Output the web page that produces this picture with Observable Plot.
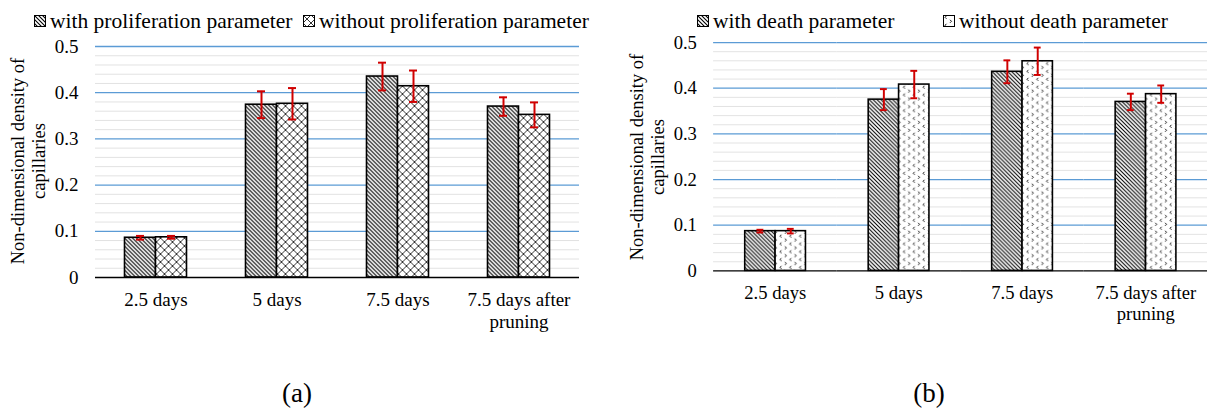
<!DOCTYPE html>
<html>
<head>
<meta charset="utf-8">
<script src="https://cdn.jsdelivr.net/npm/d3@7"></script>
<script src="https://cdn.jsdelivr.net/npm/@observablehq/plot@0.6"></script>
<style>
  html, body { margin: 0; padding: 0; background: #fff; }
  body { width: 1208px; height: 408px; overflow: hidden; position: relative;
         font-family: "Liberation Serif", "Times New Roman", serif; color: #000; }
  .panel { position: absolute; top: 30px; }
  .panel svg { overflow: visible; }
  .legend-item { position: absolute; top: 9px; display: flex; align-items: center;
                 font-size: 21.5px; line-height: 24px; white-space: nowrap; }
  .legend-item svg { margin-right: 4px; flex: none; }
  .ytitle { position: absolute; width: 320px; text-align: center; font-size: 18.5px;
            line-height: 21px; white-space: nowrap;
            transform: translate(-50%, -50%) rotate(-90deg); }
  .caption { position: absolute; top: 380px; font-size: 27px; line-height: 27px;
             transform: translateX(-50%); }
</style>
</head>
<body>
<!-- fill patterns shared by the bars and the legend swatches -->
<svg width="0" height="0" style="position:absolute">
  <defs>
    <pattern id="hatch" width="4" height="4" patternUnits="userSpaceOnUse">
      <rect width="4" height="4" fill="#fff"/>
      <path d="M-1,-1 L5,5 M-1,3 L1,5 M3,-1 L5,1" stroke="#000" stroke-width="1.1"/>
    </pattern>
    <pattern id="cross" width="8" height="8" patternUnits="userSpaceOnUse">
      <rect width="8" height="8" fill="#fff"/>
      <path d="M0,0 L8,8 M8,0 L0,8" stroke="#333" stroke-width="1"/>
    </pattern>
    <pattern id="dots" width="10" height="8" patternUnits="userSpaceOnUse">
      <rect width="10" height="8" fill="#fff"/>
      <path d="M3.5,0.8 L2,2.3 L3.5,3.8 M7,4.8 L8.5,6.3 L7,7.8" fill="none" stroke="#111" stroke-width="1"/>
    </pattern>
  </defs>
</svg>

<div id="panelA" class="panel" style="left:0px"></div>
<div id="panelB" class="panel" style="left:620px"></div>

<script>
// Categories and tick values shared by both panels
const categories = ["2.5 days", "5 days", "7.5 days", "7.5 days after pruning"];
const yTicks = [0, 0.1, 0.2, 0.3, 0.4, 0.5];

// Panel (a): proliferation parameter
const seriesA = ["with proliferation parameter", "without proliferation parameter"];
const withProlif = [0.086, 0.374, 0.435, 0.370];
const withProlifErr = [0.004, 0.029, 0.030, 0.020];
const withoutProlif = [0.087, 0.376, 0.414, 0.352];
const withoutProlifErr = [0.003, 0.034, 0.034, 0.027];

// Panel (b): death parameter
const seriesB = ["with death parameter", "without death parameter"];
const withDeath = [0.087, 0.375, 0.436, 0.370];
const withDeathErr = [0.003, 0.023, 0.025, 0.018];
const withoutDeath = [0.087, 0.408, 0.459, 0.387];
const withoutDeathErr = [0.005, 0.030, 0.030, 0.019];

const minorTicks = d3.ticks(0, 0.5, 25).filter(d => Math.round(d * 50) % 5 !== 0);
const fmtY = d => d === 0 ? "0" : d.toFixed(1);
const fmtFx = d => d.replace("after ", "after\n");

function rowsFor(series, a, aErr, b, bErr) {
  return categories.flatMap((c, i) => [
    {category: c, series: series[0], value: a[i], err: aErr[i]},
    {category: c, series: series[1], value: b[i], err: bErr[i]}
  ]);
}

function chart(rows, series, fills, opts) {
  return Plot.plot({
    width: 600,
    height: 310,
    marginLeft: opts.marginLeft,
    marginRight: opts.marginRight,
    marginTop: opts.marginTop,
    marginBottom: opts.marginBottom,
    style: {fontFamily: "Liberation Serif, Times New Roman, serif", fontSize: "19px", background: "transparent"},
    fx: {domain: categories, padding: 0},
    x: {domain: series, paddingInner: 0, paddingOuter: opts.paddingOuter, axis: null},
    y: {domain: [0, 0.5]},
    color: {type: "ordinal", domain: series, range: fills},
    marks: [
      Plot.ruleY(minorTicks, {stroke: "#e2e2e2", strokeWidth: 1}),
      Plot.ruleY(yTicks.filter(d => d > 0), {stroke: "#5b9bd5", strokeWidth: 1.3}),
      Plot.barY(rows, {fx: "category", x: "series", y: "value", fill: "series",
                       stroke: "#000", strokeWidth: 1.6}),
      Plot.ruleY([0], {stroke: "#000", strokeWidth: 1.5}),
      Plot.ruleX(rows, {fx: "category", x: "series",
                        y1: d => d.value - d.err, y2: d => d.value + d.err,
                        stroke: "#d00000", strokeWidth: 2}),
      Plot.tickY(rows, {fx: "category", x: "series", y: d => d.value + d.err,
                        stroke: "#d00000", strokeWidth: 2,
                        insetLeft: opts.capInset, insetRight: opts.capInset}),
      Plot.tickY(rows, {fx: "category", x: "series", y: d => d.value - d.err,
                        stroke: "#d00000", strokeWidth: 2,
                        insetLeft: opts.capInset, insetRight: opts.capInset}),
      Plot.axisY({ticks: yTicks, tickSize: 0, tickPadding: 17, tickFormat: fmtY, label: null}),
      Plot.axisFx({anchor: "bottom", tickSize: 0, tickPadding: 13, lineHeight: 1.15,
                   tickFormat: fmtFx, label: null})
    ]
  });
}

const rowsA = rowsFor(seriesA, withProlif, withProlifErr, withoutProlif, withoutProlifErr);
const rowsB = rowsFor(seriesB, withDeath, withDeathErr, withoutDeath, withoutDeathErr);

document.getElementById("panelA").append(chart(rowsA, seriesA, ["url(#hatch)", "url(#cross)"], {
  marginLeft: 94.5, marginRight: 21.5, marginTop: 16, marginBottom: 63,
  paddingOuter: 0.95, capInset: 11.5
}));
document.getElementById("panelB").append(chart(rowsB, seriesB, ["url(#hatch)", "url(#dots)"], {
  marginLeft: 93.75, marginRight: 0.25, marginTop: 12.3, marginBottom: 64.7,
  paddingOuter: 0.98, capInset: 12
}));

// Legends, axis titles and panel captions
function legendItem(x, label, fill) {
  const div = document.createElement("div");
  div.className = "legend-item";
  div.style.left = x + "px";
  div.innerHTML = `<svg width="12" height="12"><rect x="0.5" y="0.5" width="11" height="11" fill="${fill}" stroke="#000" stroke-width="1"/></svg>`;
  div.append(document.createTextNode(label));
  document.body.append(div);
}
legendItem(34, seriesA[0], "url(#hatch)");
legendItem(303, seriesA[1], "url(#cross)");
legendItem(697, seriesB[0], "url(#hatch)");
legendItem(943, seriesB[1], "url(#dots)");

function yTitle(cx, cy) {
  const div = document.createElement("div");
  div.className = "ytitle";
  div.style.left = cx + "px";
  div.style.top = cy + "px";
  div.innerHTML = "Non-dimensional density of<br>capillaries";
  document.body.append(div);
}
yTitle(28.5, 161);
yTitle(647.5, 157);

function caption(cx, text) {
  const div = document.createElement("div");
  div.className = "caption";
  div.style.left = cx + "px";
  div.textContent = text;
  document.body.append(div);
}
caption(297, "(a)");
caption(929, "(b)");
</script>
</body>
</html>
